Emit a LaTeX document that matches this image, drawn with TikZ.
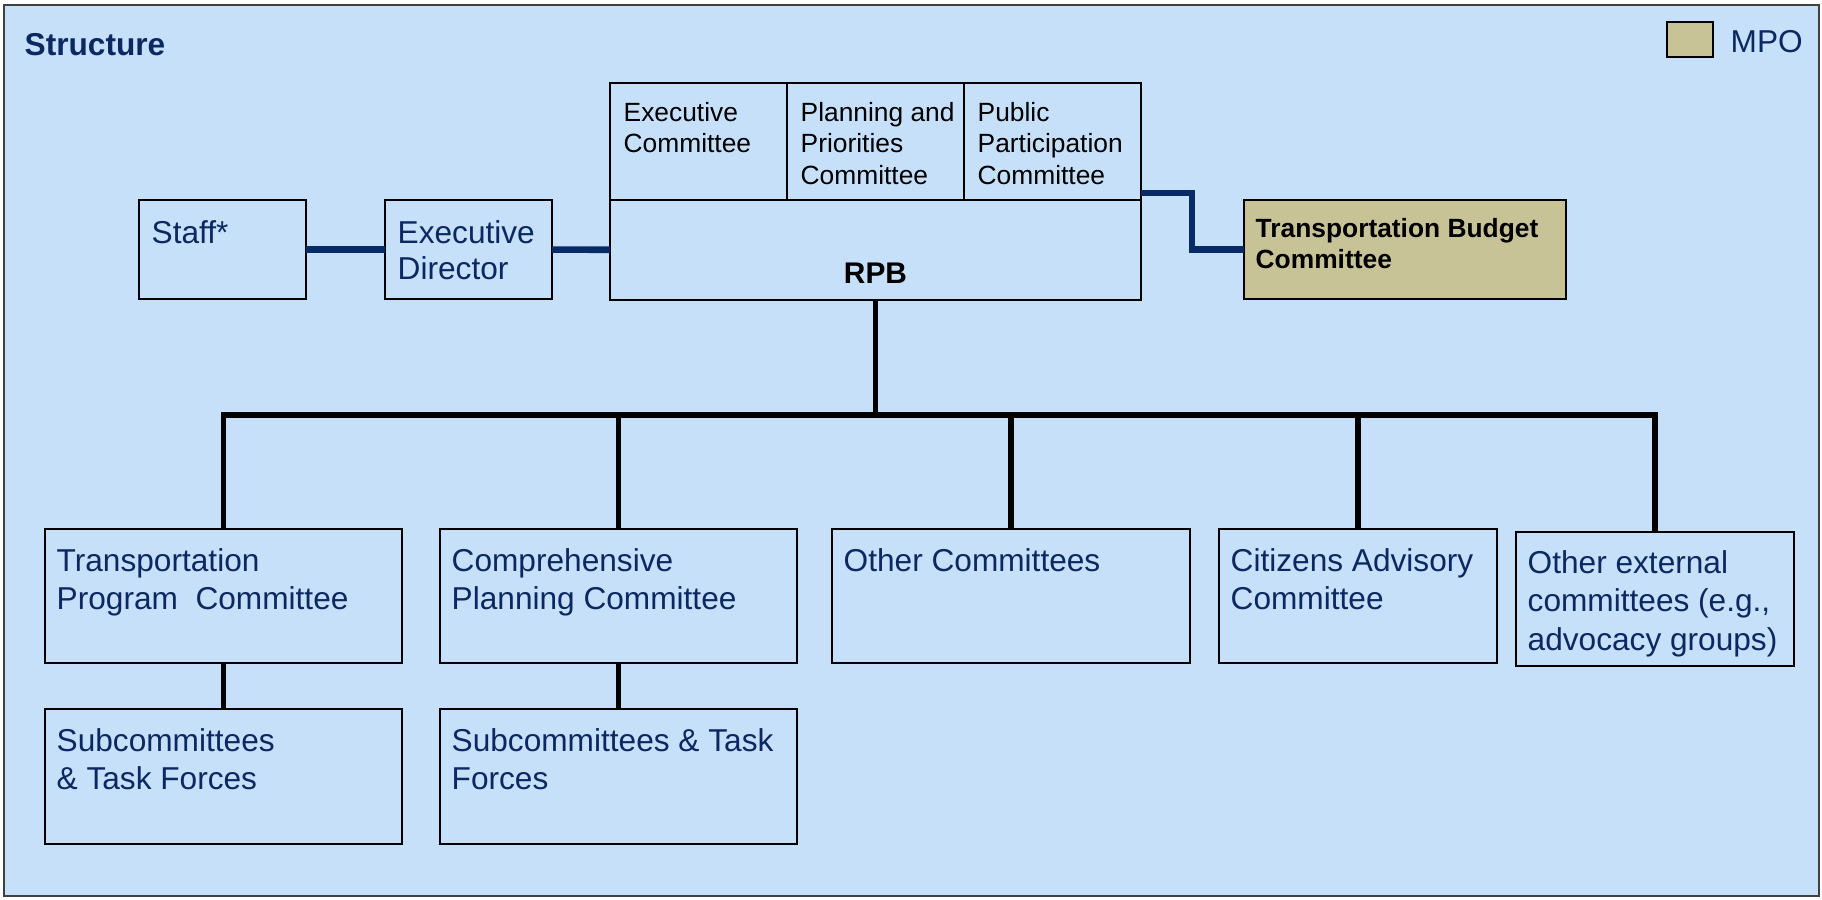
\documentclass[tikz,border=0pt]{standalone}
\usepackage{fontspec}
\setmainfont{Liberation Sans}
\usetikzlibrary{calc}

\definecolor{bgblue}{RGB}{198,224,250}
\definecolor{mpotan}{RGB}{200,195,150}
\definecolor{navytxt}{RGB}{12,40,96}
\definecolor{linenavy}{RGB}{8,42,102}

% lines of a box, first baseline on top
\newcommand{\boxlines}[1]{\begin{tabular}[t]{@{}l@{}}#1\end{tabular}}

\tikzset{
  orgbox/.style={draw=black, line width=0.5pt, fill=bgblue, anchor=north west,
    inner sep=0pt, outer sep=0pt},
  mpobox/.style={orgbox, fill=mpotan},
  btxt/.style={anchor=base west, inner sep=0pt, text=navytxt,
    font=\fontsize{9pt}{11pt}\selectfont},
  ktxt/.style={anchor=base west, inner sep=0pt, text=black,
    font=\fontsize{7.5pt}{9pt}\selectfont},
  navylink/.style={draw=linenavy, line width=1.9pt},
  treelink/.style={draw=black, line width=1.5pt}
}

\begin{document}
\begin{tikzpicture}[x=0.1mm, y=-0.1mm]
  \useasboundingbox (0,0) rectangle (1822,899);
  \draw[draw=black!75, line width=0.6pt, fill=bgblue] (4,5) rectangle (1819,896);

  % title and key
  \node[btxt, font=\fontsize{9pt}{11pt}\selectfont\bfseries] (title) at (24,55) {Structure};
  \node[mpobox, minimum width=4.6mm, minimum height=3.5mm] (key) at (1667,22) {};
  \node[btxt] (key-t) at (1730,52) {MPO};

  % top row
  \node[orgbox, minimum width=16.7mm, minimum height=9.9mm] (staff) at (139,200) {};
  \node[orgbox, minimum width=16.7mm, minimum height=9.9mm] (ed) at (385,200) {};
  \node[orgbox, minimum width=53.1mm, minimum height=10mm] (rpb) at (610,200) {};
  \node[orgbox, minimum width=17.7mm, minimum height=11.7mm] (exc) at (610,83) {};
  \node[orgbox, minimum width=17.7mm, minimum height=11.7mm] (ppc) at (787,83) {};
  \node[orgbox, minimum width=17.7mm, minimum height=11.7mm] (pub) at (964,83) {};
  \node[mpobox, minimum width=32.2mm, minimum height=9.9mm] (tbc) at (1244,200) {};

  \node[btxt] (staff-t) at ([shift={(12,43)}]staff.north west) {Staff*};
  \node[btxt, font=\fontsize{9pt}{10.5pt}\selectfont] (ed-t)
    at ([shift={(12,43)}]ed.north west) {\boxlines{Executive\\Director}};
  \node[ktxt] (exc-t) at ([shift={(13,38)}]exc.north west) {\boxlines{Executive\\Committee}};
  \node[ktxt] (ppc-t) at ([shift={(13,38)}]ppc.north west) {\boxlines{Planning and\\Priorities\\Committee}};
  \node[ktxt] (pub-t) at ([shift={(13,38)}]pub.north west) {\boxlines{Public\\Participation\\Committee}};
  \node[anchor=base, inner sep=0pt, font=\fontsize{8.5pt}{10pt}\selectfont\bfseries]
    (rpb-t) at ([shift={(0,-17)}]rpb.south) {RPB};
  \node[ktxt, font=\fontsize{7.5pt}{9pt}\selectfont\bfseries] (tbc-t)
    at ([shift={(11,37)}]tbc.north west) {\boxlines{Transportation Budget\\Committee}};

  % committees
  \node[orgbox, minimum width=35.7mm, minimum height=13.4mm] (tpc) at (45,529) {};
  \node[orgbox, minimum width=35.7mm, minimum height=13.4mm] (cpc) at (440,529) {};
  \node[orgbox, minimum width=35.8mm, minimum height=13.4mm] (oth) at (832,529) {};
  \node[orgbox, minimum width=27.8mm, minimum height=13.4mm] (cac) at (1219,529) {};
  \node[orgbox, minimum width=27.8mm, minimum height=13.4mm] (ext) at (1516,532) {};
  \node[orgbox, minimum width=35.7mm, minimum height=13.5mm] (tps) at (45,709) {};
  \node[orgbox, minimum width=35.7mm, minimum height=13.5mm] (cps) at (440,709) {};

  \node[btxt] (tpc-t) at ([shift={(11,42)}]tpc.north west) {\boxlines{Transportation\\Program\ \ Committee}};
  \node[btxt] (cpc-t) at ([shift={(11,42)}]cpc.north west) {\boxlines{Comprehensive\\Planning Committee}};
  \node[btxt] (oth-t) at ([shift={(11,42)}]oth.north west) {Other Committees};
  \node[btxt] (cac-t) at ([shift={(11,42)}]cac.north west) {\boxlines{Citizens Advisory\\Committee}};
  \node[btxt] (ext-t) at ([shift={(11,41)}]ext.north west) {\boxlines{Other external\\committees (e.g.,\\advocacy groups)}};
  \node[btxt] (tps-t) at ([shift={(11,42)}]tps.north west) {\boxlines{Subcommittees\\\& Task Forces}};
  \node[btxt] (cps-t) at ([shift={(11,42)}]cps.north west) {\boxlines{Subcommittees \& Task\\Forces}};

  % links
  \draw[navylink] (staff) -- (ed);
  \draw[navylink] (ed) -- (rpb);
  \draw[navylink] ([yshift=0.7mm]pub.south east) -- ++(51,0) |- (tbc.west);

  \coordinate (bus) at (0,415);
  \foreach \n in {tpc,cpc,oth,cac,ext}
    \draw[treelink] (rpb.south) -- (rpb.south |- bus) -| (\n.north);
  \draw[treelink] (tpc) -- (tps);
  \draw[treelink] (cpc) -- (cps);
\end{tikzpicture}
\end{document}
